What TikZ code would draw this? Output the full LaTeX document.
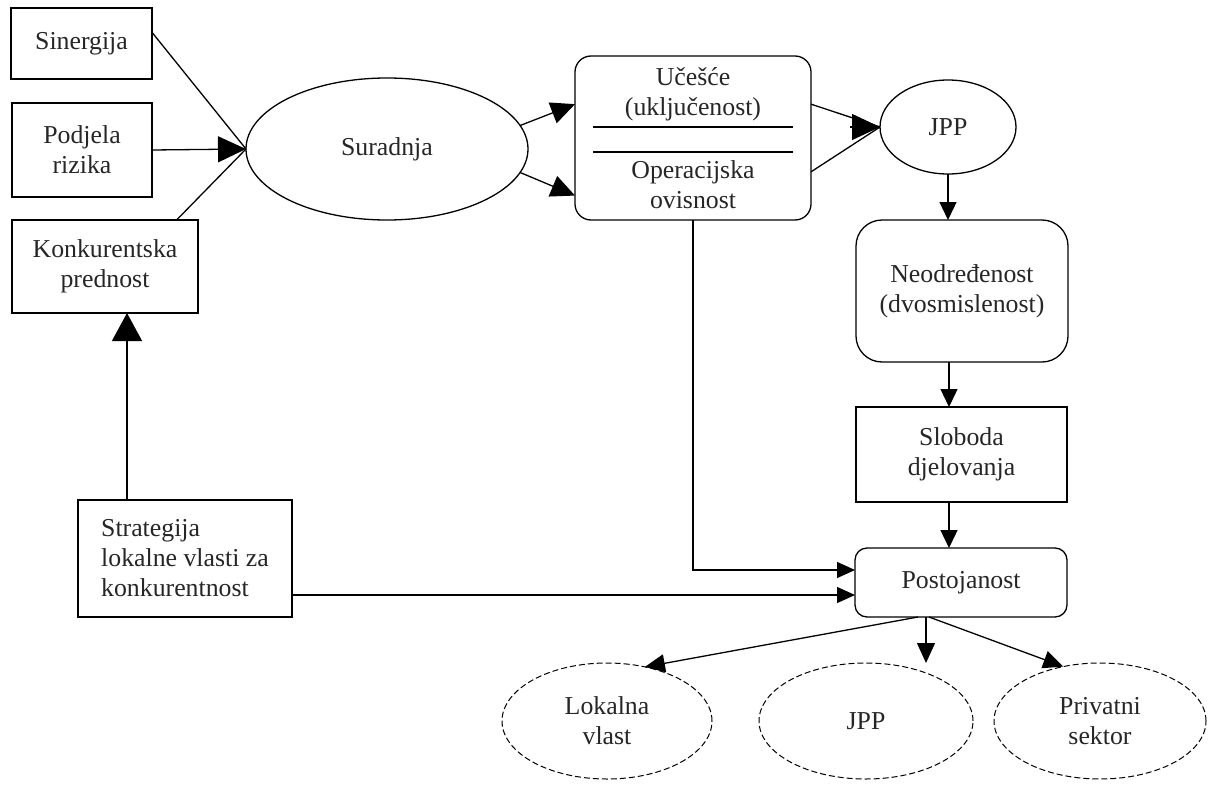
\documentclass[tikz,border=0pt]{standalone}
\usepackage{fontspec}
\setmainfont{Liberation Serif}
\usetikzlibrary{arrows.meta,shapes.geometric,calc}
\begin{document}
\begin{tikzpicture}[x=1pt,y=-1pt,line width=1.3pt,
  every node/.style={font=\fontsize{25.8}{30}\selectfont,inner sep=0pt,outer sep=0pt,align=center,text=black!85},
  sqbox/.style={draw,rectangle},
  rbox/.style={draw,rectangle,rounded corners=#1},
  oval/.style={draw,ellipse},
  dov/.style={draw,ellipse,dash pattern=on 6pt off 3pt,line width=1pt},
  bigtip/.style={-{Triangle[length=28pt,width=26pt]}},
  midtip/.style={-{Triangle[length=24pt,width=22pt]}},
  downtip/.style={-{Triangle[length=18pt,width=17pt]}},
  ptip/.style={-{Triangle[length=18pt,width=16pt]}},
  btip/.style={-{Triangle[length=20pt,width=18pt]}}
]
\useasboundingbox (0,0) rectangle (1209,784);

% nodes
\node[sqbox,minimum width=141pt,minimum height=71pt] (sin) at (81.5,43.5) {Sinergija};
\node[sqbox,minimum width=140pt,minimum height=94pt] (pod) at (82,150) {Podjela\\rizika};
\node[sqbox,minimum width=186pt,minimum height=93pt] (kon) at (105,266.5) {Konkurentska\\prednost};
\node[sqbox,minimum width=214pt,minimum height=117pt,align=left] (str) at (185,558.5) {Strategija\\lokalne vlasti za\\konkurentnost};
\node[oval,minimum width=282pt,minimum height=142pt] (sur) at (387,149) {Suradnja};
\node[rbox=16pt,minimum width=236pt,minimum height=164pt] (uc) at (693,138) {};
\node (ucA) at (693,94.5) {Učešće\\(uključenost)};
\node (ucB) at (693,185) {Operacijska\\ovisnost};
\draw (593,127) -- (793,127);
\draw (593,152) -- (793,152);
\node[oval,minimum width=136pt,minimum height=94pt] (jpp) at (948,127) {JPP};
\node[rbox=26pt,minimum width=212pt,minimum height=142pt] (neo) at (962,291) {Neodređenost\\(dvosmislenost)};
\node[sqbox,minimum width=211pt,minimum height=95pt] (slo) at (961.5,454.5) {Sloboda\\djelovanja};
\node[rbox=12pt,minimum width=212pt,minimum height=69pt] (pos) at (961,582.5) {Postojanost};
\node[dov,minimum width=210pt,minimum height=116pt] (lok) at (607,721) {Lokalna\\vlast};
\node[dov,minimum width=214pt,minimum height=116pt] (jpp2) at (866,721) {JPP};
\node[dov,minimum width=212pt,minimum height=116pt] (pri) at (1100,721) {Privatni\\sektor};

% helper coordinates
\coordinate (vx) at (949,0);
\coordinate (vk) at (127,0);
\coordinate (b1) at (918,0);
\coordinate (b2) at (926,0);
\coordinate (b3) at (929,0);
\coordinate (pA) at ($(pos.west)+(0,-12.5)$);
\coordinate (pB) at ($(pos.west)+(0,12.5)$);
\coordinate (jtail) at ($(jpp.west)+(-30,0)$);

% connectors
\draw (sin.9) -- (sur.west);
\draw[bigtip] (pod.east) -- (sur.west);
\draw (kon.33) -- (sur.west);
\draw[midtip] (sur.10) -- (uc.164);
\draw[midtip] (sur.-10) -- (uc.206);
\draw (uc.16) -- (jpp.west);
\draw (uc.-16) -- (jpp.west);
\draw[bigtip] (jtail) -- (jpp.west);
\draw[downtip] (jpp.south) -- (jpp.south |- neo.north);
\draw[downtip] (neo.south -| vx) -- (slo.north -| vx);
\draw[downtip] (slo.south -| vx) -- (pos.north -| vx);
\draw[ptip] (uc.south) |- (pA);
\draw[ptip] (str.east |- pB) -- (pB);
\draw[-{Triangle[length=28pt,width=30pt]}] (str.north -| vk) -- (kon.south -| vk);
\draw[btip] (pos.south -| b1) -- (lok.55);
\draw[btip] (pos.south -| b2) -- (jpp2.north -| b2);
\draw[btip] (pos.south -| b3) -- (pri.124);
\end{tikzpicture}
\end{document}
